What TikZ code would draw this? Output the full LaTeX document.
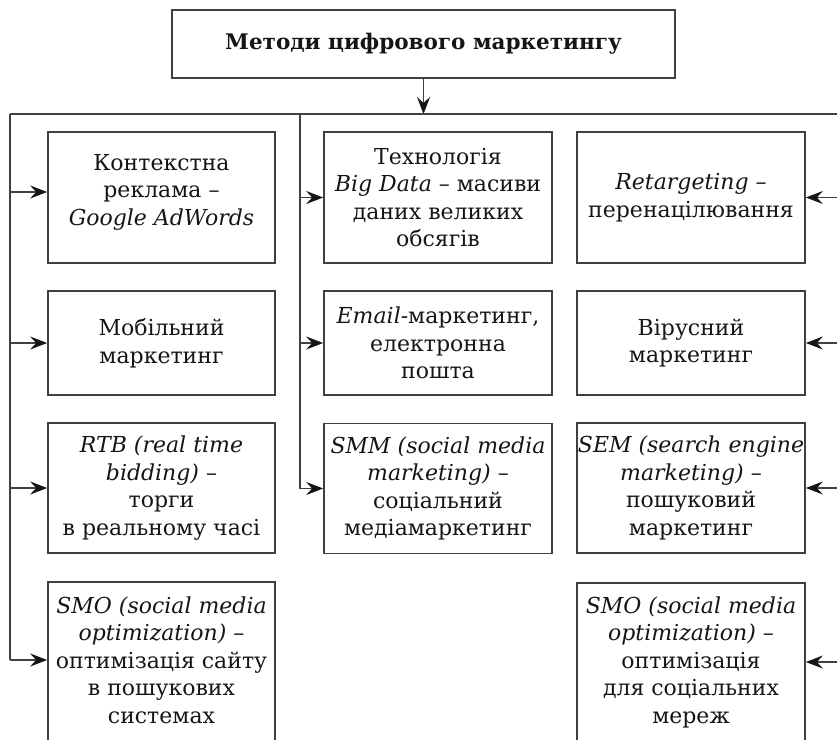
\documentclass[tikz,border=0pt]{standalone}
\usepackage{fontspec}
\setmainfont{DejaVu Serif}
\usetikzlibrary{arrows.meta}
\definecolor{ln}{HTML}{404040}
\definecolor{tx}{HTML}{151515}
\begin{document}
\begin{tikzpicture}[x=1pt,y=-1pt,
  box/.style={draw=ln, line width=1.7pt, rectangle, inner sep=0pt, align=center, text=tx,
     font=\fontsize{22}{27.5}\selectfont},
  lbl/.style={align=center, text=tx, inner sep=0pt, font=\fontsize{22}{27.5}\selectfont},
  bus/.style={draw=ln, line width=1.7pt},
  arr/.style={draw=ln, line width=1.7pt, -{Stealth[length=17pt,width=13pt,inset=6pt,color=tx]}}]
\useasboundingbox (0,0) rectangle (837,739);
% title
\node[box, minimum width=503pt, minimum height=68pt,
  font=\bfseries\fontsize{21.5}{24}\selectfont] (title) at (423.5,44) {Методи цифрового маркетингу};
% left column
\node[box, minimum width=227pt, minimum height=131pt] (k1) at (161.5,197.5) {};
\node[lbl] (k1t) at (161.5,192)
  {Контекстна\\ реклама –\\ \textit{Google AdWords}};
\node[box, minimum width=227pt, minimum height=104pt] (k2) at (161.5,343)
  {Мобільний\\ маркетинг};
\node[box, minimum width=227pt, minimum height=130pt] (k3) at (161.5,488)
  {\textit{RTB (real time}\\ \textit{bidding)} –\\ торги\\ в реальному часі};
\node[box, minimum width=227pt, minimum height=188pt] (k4) at (161.5,676) {};
\node[lbl] (k4t) at (161.5,660)
  {\textit{SMO (social media}\\ \textit{optimization)} –\\ оптимізація сайту\\ в пошукових\\ системах};
% middle column
\node[box, minimum width=228pt, minimum height=131pt] (m1) at (438,197.5)
  {Технологія\\ \textit{Big Data} – масиви\\ даних великих\\ обсягів};
\node[box, minimum width=228pt, minimum height=104pt] (m2) at (438,343)
  {\textit{Email}-маркетинг,\\ електронна\\ пошта};
\node[box, minimum width=228pt, minimum height=130pt] (m3) at (438,488.5)
  {\textit{SMM (social media}\\ \textit{marketing)} –\\ соціальний\\ медіамаркетинг};
% right column
\node[box, minimum width=228pt, minimum height=131pt] (r1) at (691,197.5)
  {\textit{Retargeting} –\\ перенацілювання};
\node[box, minimum width=228pt, minimum height=104pt] (r2) at (691,343)
  {Вірусний\\ маркетинг};
\node[box, minimum width=228pt, minimum height=130pt] (r3) at (691,488)
  {\textit{SEM (search engine}\\ \textit{marketing)} –\\ пошуковий\\ маркетинг};
\node[box, minimum width=228pt, minimum height=188pt] (r4) at (691,677) {};
\node[lbl] (r4t) at (691,662)
  {\textit{SMO (social media}\\ \textit{optimization)} –\\ оптимізація\\ для соціальних\\ мереж};
% bus
\coordinate (tl) at (10,114);
\coordinate (tm) at (300,114);
\coordinate (tr) at (842,114);
\draw[arr] (title.south) -- (title.south |- tl);
\draw[bus] (tl) -- (tr);
\draw[bus] (tl) -- (tl |- k4t);
\draw[bus] (tm) -- (tm |- m3.west);
\draw[bus] (tr) -- (tr |- r4t);
\draw[arr] (tl |- k1t) -- (k1.west |- k1t);
\foreach \b in {k2,k3} \draw[arr] (tl |- \b.west) -- (\b.west);
\draw[arr] (tl |- k4t) -- (k4.west |- k4t);
\foreach \b in {m1,m2,m3} \draw[arr] (tm |- \b.west) -- (\b.west);
\foreach \b in {r1,r2,r3} \draw[arr] (tr |- \b.east) -- (\b.east);
\draw[arr] (tr |- r4t) -- (r4.east |- r4t);
\end{tikzpicture}
\end{document}
